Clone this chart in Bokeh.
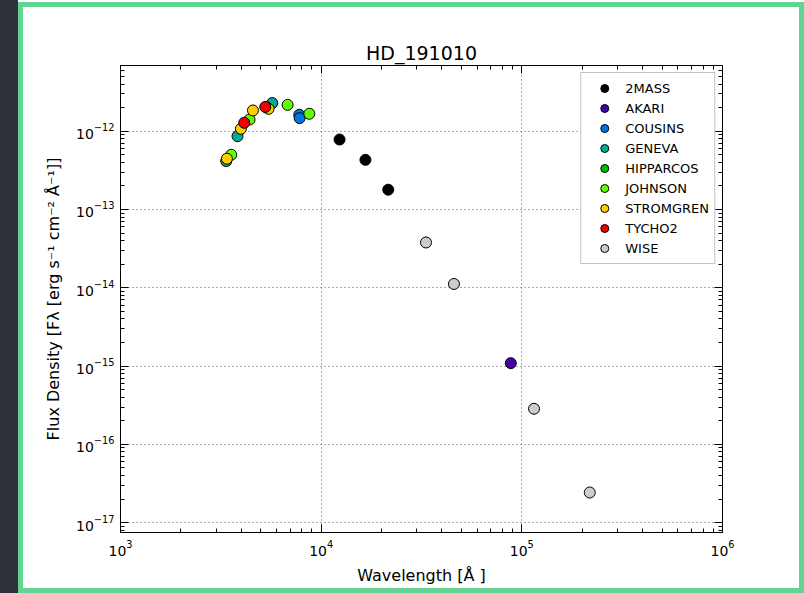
from bokeh.plotting import figure
from bokeh.models import (Range1d, LogAxis, FixedTicker, LogTickFormatter, Legend,
                          LegendItem, ColumnDataSource, CustomJSTickFormatter,
                          InlineStyleSheet)
from bokeh.embed import file_html
from bokeh.resources import INLINE

# ---------------- data ----------------
systems = ["2MASS", "AKARI", "COUSINS", "GENEVA", "HIPPARCOS", "JOHNSON",
           "STROMGREN", "TYCHO2", "WISE"]
colors = ["#000000", "#4400a1", "#0077dd", "#00aa99", "#00bb00", "#5eff00",
          "#ffcc00", "#ee0000", "#cccccc"]

wl_2mass = [12350, 16620, 21590]
fx_2mass = [7.83e-13, 4.31e-13, 1.79e-13]
wl_akari = [88100]
fx_akari = [1.09e-15]
wl_cousins = [7780, 7810]
fx_cousins = [1.62e-12, 1.47e-12]
wl_geneva = [3365, 3830, 5705]
fx_geneva = [4.16e-13, 8.63e-13, 2.29e-12]
wl_hipparcos = [5355]
fx_hipparcos = [2.01e-12]
wl_johnson = [3563, 4396, 6804, 8730]
fx_johnson = [5.0e-13, 1.41e-12, 2.17e-12, 1.67e-12]
wl_stromgren = [3390, 3981, 4571, 5467]
fx_stromgren = [4.45e-13, 1.074e-12, 1.84e-12, 1.93e-12]
wl_tycho2 = [4137, 5265]
fx_tycho2 = [1.28e-12, 2.04e-12]
wl_wise = [33300, 45900, 115000, 218000]
fx_wise = [3.79e-14, 1.12e-14, 2.85e-16, 2.43e-17]

series_wl = [wl_2mass, wl_akari, wl_cousins, wl_geneva, wl_hipparcos,
             wl_johnson, wl_stromgren, wl_tycho2, wl_wise]
series_fx = [fx_2mass, fx_akari, fx_cousins, fx_geneva, fx_hipparcos,
             fx_johnson, fx_stromgren, fx_tycho2, fx_wise]

x_decades = [3, 4, 5, 6]
y_decades = [-17, -16, -15, -14, -13, -12]

FONT = "DejaVu Sans"
W, H = 804, 593

# ---------------- figure ----------------
p = figure(width=W, height=H, x_axis_type="log", y_axis_type="log",
           x_range=Range1d(1e3, 1e6),
           y_range=Range1d(10 ** -17.125, 10 ** -11.161),
           output_backend="svg", toolbar_location=None, title="HD_191010",
           min_border_left=120, min_border_right=82, min_border_top=65,
           min_border_bottom=61)
p.background_fill_color = "white"
p.border_fill_color = "white"
p.outline_line_color = "black"
p.outline_line_width = 1
p.outline_line_alpha = 1

p.title.align = "center"
p.title.text_font = FONT
p.title.text_font_size = "19px"
p.title.text_font_style = "normal"
p.title.text_color = "black"
p.title.standoff = 4


def minors(decs):
    out = []
    for d in decs[:-1]:
        for m in range(2, 10):
            out.append(m * 10.0 ** d)
    return out


xt = FixedTicker(ticks=[10.0 ** d for d in x_decades], minor_ticks=minors(x_decades))
yt = FixedTicker(ticks=[10.0 ** d for d in y_decades],
                 minor_ticks=minors([-18] + y_decades + [-11]))


def style_axis(ax):
    ax.major_tick_in = 8
    ax.major_tick_out = 0
    ax.minor_tick_in = 4
    ax.minor_tick_out = 0
    ax.axis_line_color = "black"
    ax.major_tick_line_color = "black"
    ax.minor_tick_line_color = "black"
    ax.major_label_text_font = FONT
    ax.major_label_text_font_size = "14px"
    ax.major_label_text_color = "black"
    ax.axis_label_text_font = FONT
    ax.axis_label_text_font_size = "16px"
    ax.axis_label_text_font_style = "normal"
    ax.axis_label_text_color = "black"


p.xaxis.ticker = xt
p.yaxis.ticker = yt
p.xaxis.formatter = LogTickFormatter()
p.yaxis.formatter = LogTickFormatter()
style_axis(p.xaxis[0])
style_axis(p.yaxis[0])
p.xaxis.axis_label = "Wavelength [Å ]"
p.yaxis.axis_label = "Flux Density [Fλ [erg s⁻¹ cm⁻² Å⁻¹]]"
p.xaxis.major_label_standoff = 7
p.yaxis.major_label_standoff = 6
p.xaxis.axis_label_standoff = 7
p.yaxis.axis_label_standoff = 10

blank = CustomJSTickFormatter(code="return ''")
top_ax = LogAxis(ticker=xt, formatter=blank)
right_ax = LogAxis(ticker=yt, formatter=blank)
style_axis(top_ax)
style_axis(right_ax)
top_ax.major_label_text_font_size = "1px"
right_ax.major_label_text_font_size = "1px"
top_ax.major_label_standoff = 0
right_ax.major_label_standoff = 0
p.add_layout(top_ax, "above")
p.add_layout(right_ax, "right")

for g in (p.xgrid, p.ygrid):
    g.grid_line_color = "#333333"
    g.grid_line_alpha = 0.8
    g.grid_line_dash = "1 3"
    g.grid_line_width = 1
p.xgrid.ticker = xt
p.ygrid.ticker = yt

# ---------------- data marks ----------------
items = []
for name, col, wl, fx in zip(systems, colors, series_wl, series_fx):
    src = ColumnDataSource(dict(x=wl, y=fx))
    r = p.scatter("x", "y", source=src, size=11, fill_color=col,
                  line_color="black", line_width=1)
    items.append(LegendItem(label=name, renderers=[r]))

legend = Legend(items=items, location="top_right")
legend.margin = 7
legend.padding = 5
legend.spacing = 0
legend.glyph_width = 36
legend.glyph_height = 20
legend.label_height = 20
legend.label_standoff = 3
legend.label_text_font = FONT
legend.label_text_font_size = "13px"
legend.label_text_color = "black"
legend.border_line_color = "#888888"
legend.border_line_width = 1.5
legend.background_fill_alpha = 1
p.add_layout(legend)

# ---------------- screenshot frame decoration (dark strip + green border) ----
css = """
:host { position: relative; }
:host::before {
  content: ""; position: absolute; left: 0; top: 0; width: 18px; height: 100%;
  background: #2e303a; z-index: 50; pointer-events: none;
}
:host::after {
  content: ""; position: absolute; left: 18px; top: 2px; right: 0; bottom: 0;
  border: 5px solid #63d394; box-sizing: border-box; z-index: 51;
  pointer-events: none;
}
"""
p.stylesheets = [InlineStyleSheet(css=css)]

open("out.html", "w").write(file_html(p, INLINE))
